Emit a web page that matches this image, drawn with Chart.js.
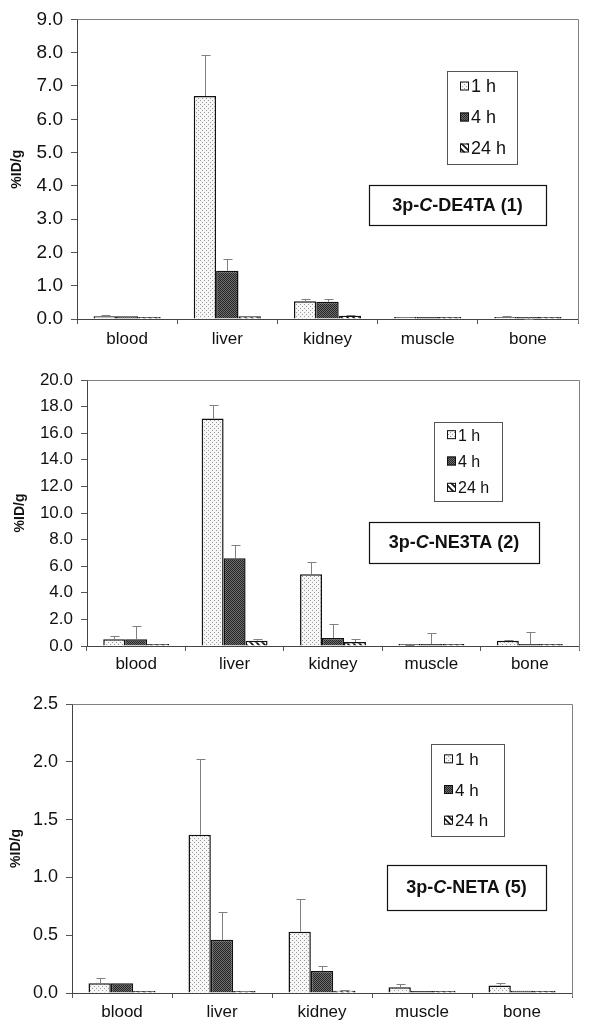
<!DOCTYPE html>
<html>
<head>
<meta charset="utf-8">
<script src="https://cdn.jsdelivr.net/npm/chart.js@4.4.1/dist/chart.umd.min.js"></script>
<style>
    body { margin: 0; background: #fff; width: 589px; height: 1029px; overflow: hidden; position: relative; }
    .panel { position: absolute; left: 0; width: 589px; }
</style>
</head>
<body>
<div class="panel" style="top:0;height:350px"><canvas id="chart1"></canvas></div>
<div class="panel" style="top:350px;height:330px"><canvas id="chart2"></canvas></div>
<div class="panel" style="top:680px;height:349px"><canvas id="chart3"></canvas></div>
<script>
const organs = ['blood', 'liver', 'kidney', 'muscle', 'bone'];
const timeLabels = ['1 h', '4 h', '24 h'];

// 3p-C-DE4TA (1)
const de4ta1h = [0.08, 6.70, 0.53, 0.04, 0.06];
const de4ta4h = [0.08, 1.45, 0.52, 0.005, 0.01];
const de4ta24h = [0.01, 0.08, 0.10, 0.005, 0.005];
const de4ta1hSd = [0.04, 1.22, 0.07, 0.01, 0.02];
const de4ta4hSd = [0.01, 0.35, 0.07, 0, 0.005];
const de4ta24hSd = [0, 0.01, 0.03, 0, 0];

// 3p-C-NE3TA (2)
const ne3ta1h = [0.5, 17.1, 5.4, 0.03, 0.4];
const ne3ta4h = [0.5, 6.6, 0.6, 0.01, 0.03];
const ne3ta24h = [0.03, 0.4, 0.3, 0.01, 0.02];
const ne3ta1hSd = [0.25, 1.0, 0.9, 0.01, 0.03];
const ne3ta4hSd = [1.0, 1.0, 1.05, 1.0, 1.05];
const ne3ta24hSd = [0, 0.1, 0.2, 0, 0];

// 3p-C-NETA (5)
const neta1h = [0.085, 1.37, 0.53, 0.05, 0.065];
const neta4h = [0.085, 0.46, 0.19, 0.003, 0.02];
const neta24h = [0.003, 0.01, 0.02, 0.002, 0.005];
const neta1hSd = [0.045, 0.65, 0.28, 0.025, 0.02];
const neta4hSd = [0, 0.24, 0.045, 0, 0];
const neta24hSd = [0, 0.005, 0.005, 0, 0];

const FONT = '"Liberation Sans", Arial, sans-serif';
Chart.defaults.font.family = FONT;
Chart.defaults.color = '#111';

function makePattern(size, draw) {
    const c = document.createElement('canvas');
    c.width = size; c.height = size;
    const x = c.getContext('2d');
    draw(x, size);
    return x.createPattern(c, 'repeat');
}

const dotFill = makePattern(4, (x) => {
    x.fillStyle = '#f6f6f6'; x.fillRect(0, 0, 4, 4);
    x.fillStyle = '#9a9a9a'; x.fillRect(0, 0, 1, 1); x.fillRect(2, 2, 1, 1);
});
const darkFill = makePattern(2, (x) => {
    x.fillStyle = '#6e6e6e'; x.fillRect(0, 0, 2, 2);
    x.fillStyle = '#262626'; x.fillRect(0, 0, 1, 1); x.fillRect(1, 1, 1, 1);
});
const stripeFill = makePattern(6, (x, s) => {
    x.fillStyle = '#fff'; x.fillRect(0, 0, s, s);
    x.strokeStyle = '#111'; x.lineWidth = 1.6;
    x.beginPath();
    x.moveTo(-1, -1); x.lineTo(s + 1, s + 1);
    x.moveTo(s - 1, -1); x.lineTo(2 * s + 1, s + 1);
    x.moveTo(-s - 1, -1); x.lineTo(1, s + 1);
    x.stroke();
});
const fills = [dotFill, darkFill, stripeFill];

const panelPlugin = {
    id: 'panel',
    afterDatasetsDraw(chart) {
        const ctx = chart.ctx;
        const y = chart.scales.y;
        ctx.save();
        ctx.strokeStyle = '#808080';
        ctx.lineWidth = 1;
        chart.data.datasets.forEach((ds, i) => {
            const meta = chart.getDatasetMeta(i);
            meta.data.forEach((bar, j) => {
                const sd = ds.sd[j];
                if (!sd) return;
                const yTop = Math.round(y.getPixelForValue(ds.data[j] + sd)) + 0.5;
                const xc = Math.round(bar.x) + 0.5;
                ctx.beginPath();
                ctx.moveTo(xc, bar.y);
                ctx.lineTo(xc, yTop);
                ctx.moveTo(xc - 4, yTop);
                ctx.lineTo(xc + 5, yTop);
                ctx.stroke();
            });
        });
        ctx.restore();
    },
    afterDraw(chart, args, opts) {
        const ctx = chart.ctx;
        const a = chart.chartArea;
        ctx.save();
        // top and right frame
        ctx.strokeStyle = '#808080';
        ctx.lineWidth = 1;
        ctx.beginPath();
        ctx.moveTo(Math.round(a.left) + 0.5, Math.round(a.top) + 0.5);
        ctx.lineTo(Math.round(a.right) + 0.5, Math.round(a.top) + 0.5);
        ctx.lineTo(Math.round(a.right) + 0.5, Math.round(a.bottom) + 4);
        ctx.stroke();

        // legend box
        const L = opts.legend;
        ctx.strokeStyle = '#555';
        ctx.fillStyle = '#fff';
        ctx.fillRect(L.x, L.y, L.w, L.h);
        ctx.strokeRect(L.x + 0.5, L.y + 0.5, L.w, L.h);
        ctx.font = `${L.size}px ${FONT}`;
        ctx.textBaseline = 'middle';
        timeLabels.forEach((t, i) => {
            const cy = L.y + L.h / 6 + i * L.h / 3;
            const sx = L.x + 13;
            ctx.fillStyle = fills[i];
            ctx.fillRect(sx, cy - 5, 9, 9);
            ctx.strokeStyle = '#111';
            ctx.strokeRect(sx + 0.5, cy - 4.5, 8, 8);
            ctx.fillStyle = '#111';
            ctx.fillText(t, sx + 11, cy + 1);
        });

        // compound label box
        const B = opts.label;
        ctx.fillStyle = '#fff';
        ctx.fillRect(B.x, B.y, B.w, B.h);
        ctx.strokeStyle = '#111';
        ctx.lineWidth = 1.2;
        ctx.strokeRect(B.x + 0.5, B.y + 0.5, B.w, B.h);
        const parts = [['3p-', 'bold'], ['C', 'italic bold'], [B.text, 'bold']];
        let total = 0;
        parts.forEach(p => { ctx.font = `${p[1]} ${B.size}px ${FONT}`; total += ctx.measureText(p[0]).width; });
        let tx = B.x + B.w / 2 - total / 2;
        ctx.fillStyle = '#111';
        ctx.textBaseline = 'middle';
        parts.forEach(p => {
            ctx.font = `${p[1]} ${B.size}px ${FONT}`;
            ctx.fillText(p[0], tx, B.y + B.h / 2 + 1);
            tx += ctx.measureText(p[0]).width;
        });
        ctx.restore();
    }
};

function buildChart(id, series, sds, cfg) {
    const ctx = document.getElementById(id).getContext('2d');
    return new Chart(ctx, {
        type: 'bar',
        data: {
            labels: organs,
            datasets: series.map((s, i) => ({
                label: timeLabels[i],
                data: s,
                sd: sds[i],
                backgroundColor: fills[i],
                borderColor: '#111',
                borderWidth: 1.5,
                minBarLength: 2,
                categoryPercentage: 0.67,
                barPercentage: 1.0
            }))
        },
        options: {
            responsive: true,
            maintainAspectRatio: false,
            animation: false,
            layout: { padding: { top: cfg.padTop, right: cfg.padRight, left: 0, bottom: 0 } },
            scales: {
                x: {
                    ticks: { color: '#111', font: { size: 17 }, padding: cfg.xPad },
                    grid: { offset: true, drawOnChartArea: false, tickLength: 5, color: '#555' },
                    border: { color: '#444' },
                    afterFit: (s) => { s.height = cfg.xHeight; }
                },
                y: {
                    min: 0,
                    max: cfg.max,
                    ticks: { stepSize: cfg.step, color: '#111', font: { size: cfg.tickSize }, padding: 8,
                        callback: (v) => Number(v).toFixed(1) },
                    grid: { drawOnChartArea: false, tickLength: 6, color: '#555' },
                    border: { color: '#444' },
                    title: { display: true, text: '%ID/g', color: '#111',
                        font: { size: 14, weight: 'bold' }, padding: { top: cfg.titlePad, bottom: 0 } },
                    afterFit: (s) => { s.width = cfg.yWidth; }
                }
            },
            plugins: {
                legend: { display: false },
                tooltip: { enabled: false },
                panel: { legend: cfg.legend, label: cfg.label }
            }
        },
        plugins: [panelPlugin]
    });
}

buildChart('chart1', [de4ta1h, de4ta4h, de4ta24h], [de4ta1hSd, de4ta4hSd, de4ta24hSd], {
    max: 9, step: 1, padTop: 15, padRight: 11, yWidth: 77, xHeight: 31, xPad: 5, titlePad: 9, tickSize: 19,
    legend: { x: 447, y: 71, w: 70, h: 93, size: 18 },
    label: { x: 369, y: 185, w: 177, h: 40, size: 18, text: '-DE4TA (1)' }
});
buildChart('chart2', [ne3ta1h, ne3ta4h, ne3ta24h], [ne3ta1hSd, ne3ta4hSd, ne3ta24hSd], {
    max: 20, step: 2, padTop: 30, padRight: 10, yWidth: 87, xHeight: 34, xPad: 3, titlePad: 12, tickSize: 17,
    legend: { x: 434, y: 72, w: 68, h: 79, size: 16 },
    label: { x: 369, y: 172, w: 170, h: 41, size: 18, text: '-NE3TA (2)' }
});
buildChart('chart3', [neta1h, neta4h, neta24h], [neta1hSd, neta4hSd, neta24hSd], {
    max: 2.5, step: 0.5, padTop: 24, padRight: 17, yWidth: 72, xHeight: 36, xPad: 4, titlePad: 8, tickSize: 18,
    legend: { x: 431, y: 64, w: 73, h: 92, size: 17 },
    label: { x: 387, y: 185, w: 159, h: 45, size: 18, text: '-NETA (5)' }
});
</script>
</body>
</html>
